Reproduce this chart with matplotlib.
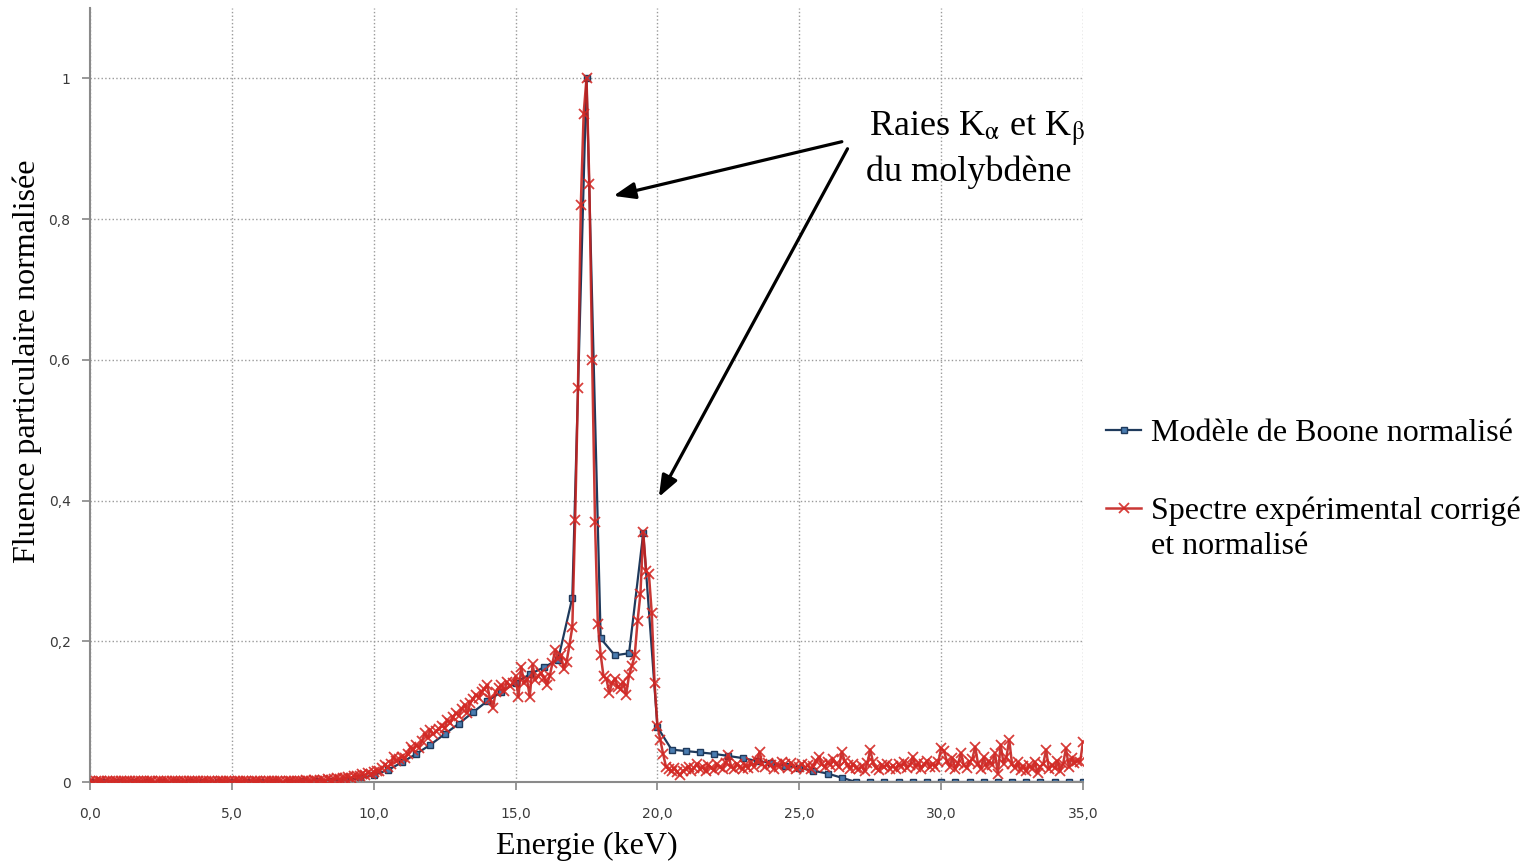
import numpy as np
import matplotlib
matplotlib.use("Agg")
import matplotlib.pyplot as plt
from matplotlib.ticker import FuncFormatter, MultipleLocator

# --- Boone model, one point every 0.5 keV (0 -> 35 keV)
boone_energy = np.arange(0, 35.01, 0.5)
boone_fluence = [
    0, 0, 0, 0, 0, 0, 0, 0, 0, 0,
    0, 0, 0, 0, 0, 0.001, 0.001, 0.002, 0.003, 0.005,
    0.010, 0.017, 0.028, 0.040, 0.053, 0.068, 0.083, 0.099, 0.115, 0.128,
    0.141, 0.153, 0.163, 0.174, 0.262, 1.000, 0.204, 0.180, 0.183, 0.354,
    0.078, 0.046, 0.044, 0.042, 0.040, 0.037, 0.034, 0.030, 0.027, 0.023,
    0.020, 0.016, 0.012, 0.006, 0, 0, 0, 0, 0, 0,
    0, 0, 0, 0, 0, 0, 0, 0, 0, 0,
    0,
]

# --- corrected experimental spectrum, one channel every 0.1 keV
exp_energy = np.round(np.arange(0, 35.01, 0.1), 1)
exp_fluence = [
    0.001, 0.000, 0.001, 0.002, 0.001, 0.000, 0.001, 0.001, 0.002, 0.001,
    0.000, 0.001, 0.002, 0.001, 0.001, 0.000, 0.001, 0.002, 0.001, 0.001,
    0.001, 0.002, 0.001, 0.000, 0.001, 0.002, 0.001, 0.001, 0.000, 0.001,
    0.002, 0.001, 0.001, 0.002, 0.000, 0.001, 0.001, 0.002, 0.001, 0.000,
    0.001, 0.002, 0.001, 0.001, 0.000, 0.002, 0.001, 0.001, 0.002, 0.001,
    0.000, 0.001, 0.002, 0.001, 0.001, 0.002, 0.000, 0.001, 0.001, 0.002,
    0.001, 0.000, 0.001, 0.002, 0.001, 0.001, 0.002, 0.001, 0.000, 0.002,
    0.001, 0.002, 0.001, 0.002, 0.002, 0.001, 0.003, 0.002, 0.002, 0.003,
    0.002, 0.003, 0.003, 0.002, 0.004, 0.003, 0.004, 0.005, 0.004, 0.006,
    0.005, 0.007, 0.006, 0.008, 0.009, 0.008, 0.011, 0.010, 0.013, 0.012,
    0.014, 0.016, 0.015, 0.020, 0.024, 0.021, 0.026, 0.036, 0.030, 0.033,
    0.036, 0.034, 0.040, 0.050, 0.046, 0.053, 0.049, 0.058, 0.069, 0.062,
    0.074, 0.068, 0.072, 0.075, 0.080, 0.077, 0.088, 0.084, 0.092, 0.098,
    0.094, 0.104, 0.110, 0.098, 0.112, 0.118, 0.124, 0.119, 0.128, 0.132,
    0.138, 0.118, 0.105, 0.128, 0.134, 0.138, 0.130, 0.142, 0.136, 0.140,
    0.150, 0.121, 0.164, 0.140, 0.147, 0.121, 0.167, 0.145, 0.151, 0.155,
    0.148, 0.138, 0.150, 0.169, 0.188, 0.175, 0.181, 0.160, 0.171, 0.195,
    0.220, 0.373, 0.560, 0.820, 0.950, 1.000, 0.850, 0.600, 0.370, 0.224,
    0.181, 0.150, 0.147, 0.127, 0.140, 0.147, 0.135, 0.132, 0.142, 0.124,
    0.152, 0.165, 0.180, 0.229, 0.267, 0.355, 0.300, 0.295, 0.240, 0.140,
    0.080, 0.060, 0.040, 0.022, 0.018, 0.015, 0.020, 0.014, 0.010, 0.016,
    0.018, 0.022, 0.016, 0.020, 0.026, 0.018, 0.022, 0.015, 0.024, 0.020,
    0.017, 0.025, 0.021, 0.018, 0.027, 0.038, 0.022, 0.019, 0.026, 0.021,
    0.018, 0.024, 0.020, 0.028, 0.022, 0.030, 0.043, 0.025, 0.021, 0.027,
    0.024, 0.019, 0.026, 0.022, 0.029, 0.025, 0.020, 0.027, 0.023, 0.018,
    0.022, 0.026, 0.020, 0.024, 0.018, 0.023, 0.030, 0.036, 0.025, 0.021,
    0.028, 0.024, 0.032, 0.026, 0.022, 0.043, 0.030, 0.024, 0.019, 0.026,
    0.020, 0.018, 0.023, 0.015, 0.027, 0.046, 0.028, 0.020, 0.017, 0.024,
    0.021, 0.026, 0.019, 0.023, 0.018, 0.025, 0.022, 0.028, 0.020, 0.024,
    0.036, 0.022, 0.027, 0.019, 0.025, 0.030, 0.021, 0.026, 0.022, 0.028,
    0.048, 0.044, 0.030, 0.022, 0.034, 0.018, 0.027, 0.041, 0.024, 0.020,
    0.028, 0.033, 0.050, 0.026, 0.019, 0.035, 0.022, 0.030, 0.024, 0.041,
    0.012, 0.053, 0.026, 0.035, 0.060, 0.025, 0.020, 0.028, 0.017, 0.023,
    0.015, 0.024, 0.019, 0.028, 0.013, 0.022, 0.026, 0.046, 0.018, 0.024,
    0.020, 0.030, 0.016, 0.026, 0.048, 0.022, 0.034, 0.027, 0.030, 0.029,
    0.057,
]

label_model = "Modèle de Boone normalisé"
label_exp = "Spectre expérimental corrigé"
label_exp_2 = "et normalisé"

plt.rcParams["mathtext.fontset"] = "stix"
serif = "Liberation Serif"
W, H = 1535, 867

fig = plt.figure(figsize=(15.35, 8.67), dpi=100)
ax = fig.add_axes([90 / W, 85 / H, 993 / W, 774 / H])

ax.plot(boone_energy, boone_fluence, color="#1f3a5c", lw=1.6,
        marker="s", ms=4, mfc="#4a7cb0", mec="#1f3a5c", mew=1.0,
        label=label_model, zorder=2)
ax.plot(exp_energy, exp_fluence, color="#c4221f", lw=1.8,
        marker="x", ms=7, mew=1.3, mec="#d42a26",
        label=label_exp, zorder=3, alpha=0.9)

ax.set_xlim(0, 35)
ax.set_ylim(0, 1.1)
ax.xaxis.set_major_locator(MultipleLocator(5))
ax.set_yticks([0, 0.2, 0.4, 0.6, 0.8, 1.0])
ax.xaxis.set_major_formatter(FuncFormatter(lambda v, p: f"{v:.1f}".replace(".", ",")))
ax.yaxis.set_major_formatter(FuncFormatter(
    lambda v, p: "0" if abs(v) < 1e-9 else ("1" if abs(v - 1) < 1e-9 else f"{v:.1f}".replace(".", ","))))
ax.tick_params(axis="both", labelsize=10, labelcolor="#3a3a3a", color="#868686",
               length=6, width=1.2, pad=8)
ax.tick_params(axis="x", pad=12)

ax.grid(True, color="#9a9a9a", ls=":", lw=1.0)
for s in ("top", "right"):
    ax.spines[s].set_visible(False)
for s in ("left", "bottom"):
    ax.spines[s].set_color("#8a8a8a")
    ax.spines[s].set_linewidth(1.5)

ax.set_xlabel("Energie (keV)", family=serif, fontsize=23, labelpad=8)
ax.set_ylabel("Fluence particulaire normalisée", family=serif, fontsize=23)
ax.yaxis.set_label_coords(-0.048, 0.544)

# annotation: Mo K lines
ax.text(27.45, 0.928, "Raies K$_{\\mathrm{\\alpha}}$ et K$_{\\mathrm{\\beta}}$",
        family=serif, fontsize=26, ha="left", va="center")
ax.text(27.35, 0.866, "du molybdène", family=serif, fontsize=26, ha="left", va="center")
arrow = dict(arrowstyle="-|>,head_length=1.3,head_width=0.5", color="black", lw=2.3,
             shrinkA=0, shrinkB=0)
ax.annotate("", xy=(18.45, 0.833), xytext=(26.5, 0.91), arrowprops=arrow)
ax.annotate("", xy=(20.05, 0.405), xytext=(26.7, 0.90), arrowprops=arrow)

leg = ax.legend(loc="upper left", bbox_to_anchor=(1090 / W, (H - 403) / H),
                bbox_transform=fig.transFigure, frameon=False, borderpad=0,
                prop={"family": serif, "size": 23}, handlelength=1.1,
                handletextpad=0.3, labelspacing=1.52)

fig.canvas.draw()
tb = leg.get_texts()[1].get_window_extent()
fig.text(tb.x0 / W, (H - 546) / H, label_exp_2, family=serif, fontsize=23,
         ha="left", va="center")

fig.savefig("out.png", dpi=100)
